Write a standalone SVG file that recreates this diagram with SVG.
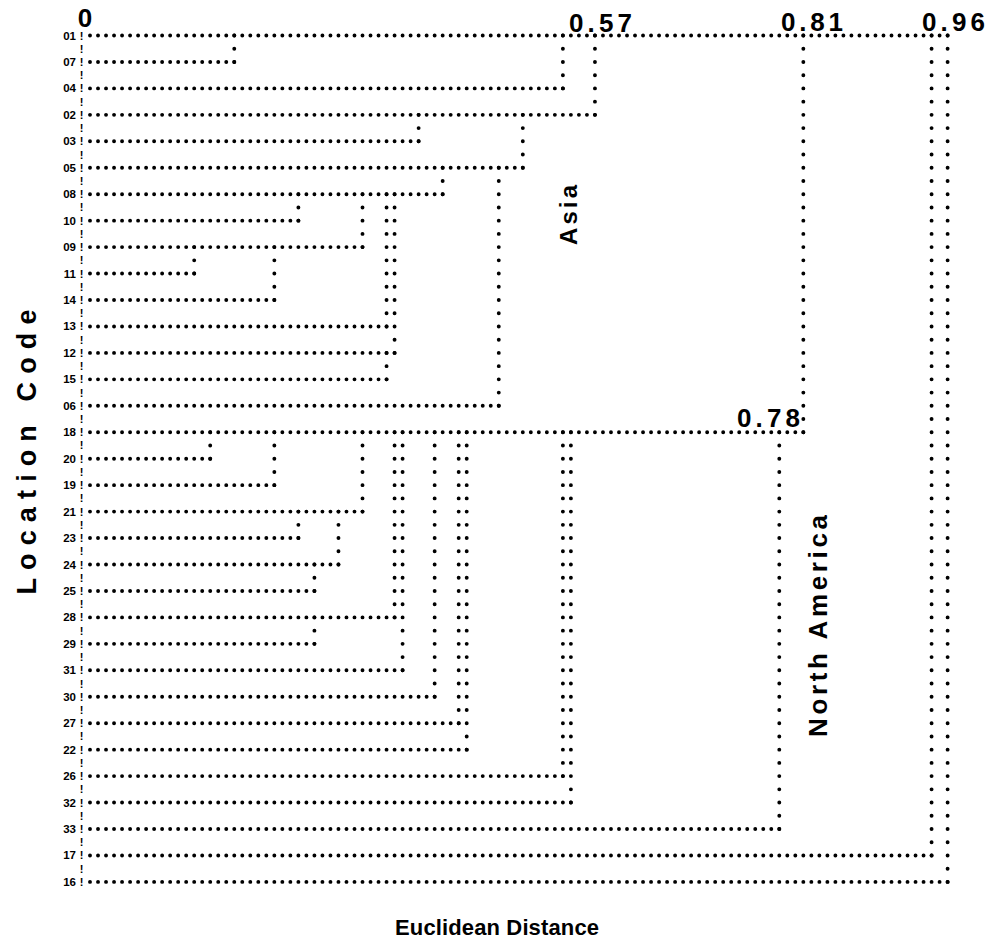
<svg xmlns="http://www.w3.org/2000/svg" width="991" height="946" viewBox="0 0 991 946">
<style>
.c line{stroke:#000;stroke-linecap:round;stroke-width:3.9;fill:none}
.h{stroke-dasharray:0 8.015}
.v{stroke-dasharray:0 13.225}
.lbl{font-family:"Liberation Sans",Arial,sans-serif;font-weight:bold;font-size:11.5px;fill:#000;text-anchor:end}
.bang{font-family:"Liberation Sans",Arial,sans-serif;font-weight:bold;font-size:11px;fill:#000;text-anchor:middle}
.num{font-family:"Liberation Sans",Arial,sans-serif;font-weight:bold;font-size:26px;fill:#000}
.title{font-family:"Liberation Sans",Arial,sans-serif;font-weight:bold;font-size:26px;fill:#000;text-anchor:middle}
</style>
<rect width="991" height="946" fill="#fff"/>
<g id="scale">
<text class="num" x="85" y="27" text-anchor="middle">0</text>
<text class="num" x="569" y="32" textLength="63">0.57</text>
<text class="num" x="781" y="31" textLength="62">0.81</text>
<text class="num" x="922" y="31" textLength="63">0.96</text>
<text class="num" x="737" y="427" textLength="63">0.78</text>
</g>
<g id="ticks">
<text class="bang" x="81.7 81.7 81.7 81.7 81.7 81.7 81.7 81.7 81.7 81.7 81.7 81.7 81.7 81.7 81.7 81.7 81.7 81.7 81.7 81.7 81.7 81.7 81.7 81.7 81.7 81.7 81.7 81.7 81.7 81.7 81.7 81.7 81.7 81.7 81.7 81.7 81.7 81.7 81.7 81.7 81.7 81.7 81.7 81.7 81.7 81.7 81.7 81.7 81.7 81.7 81.7 81.7 81.7 81.7 81.7 81.7 81.7 81.7 81.7 81.7 81.7 81.7 81.7 81.7 81.7" y="39.5 52.73 65.95 79.18 92.4 105.63 118.85 132.08 145.3 158.53 171.75 184.98 198.2 211.43 224.65 237.88 251.1 264.33 277.55 290.78 304.0 317.23 330.45 343.68 356.9 370.13 383.35 396.58 409.8 423.03 436.25 449.48 462.7 475.93 489.15 502.38 515.6 528.83 542.05 555.28 568.5 581.73 594.95 608.18 621.4 634.63 647.85 661.08 674.3 687.53 700.75 713.98 727.2 740.43 753.65 766.88 780.1 793.33 806.55 819.78 833.0 846.23 859.45 872.68 885.9">!!!!!!!!!!!!!!!!!!!!!!!!!!!!!!!!!!!!!!!!!!!!!!!!!!!!!!!!!!!!!!!!!</text>
</g>
<g id="leaf-01"><text class="lbl" x="76" y="39.5">01</text></g>
<g id="leaf-07"><text class="lbl" x="76" y="65.95">07</text></g>
<g id="leaf-04"><text class="lbl" x="76" y="92.4">04</text></g>
<g id="leaf-02"><text class="lbl" x="76" y="118.85">02</text></g>
<g id="leaf-03"><text class="lbl" x="76" y="145.3">03</text></g>
<g id="leaf-05"><text class="lbl" x="76" y="171.75">05</text></g>
<g id="leaf-08"><text class="lbl" x="76" y="198.2">08</text></g>
<g id="leaf-10"><text class="lbl" x="76" y="224.65">10</text></g>
<g id="leaf-09"><text class="lbl" x="76" y="251.1">09</text></g>
<g id="leaf-11"><text class="lbl" x="76" y="277.55">11</text></g>
<g id="leaf-14"><text class="lbl" x="76" y="304.0">14</text></g>
<g id="leaf-13"><text class="lbl" x="76" y="330.45">13</text></g>
<g id="leaf-12"><text class="lbl" x="76" y="356.9">12</text></g>
<g id="leaf-15"><text class="lbl" x="76" y="383.35">15</text></g>
<g id="leaf-06"><text class="lbl" x="76" y="409.8">06</text></g>
<g id="leaf-18"><text class="lbl" x="76" y="436.25">18</text></g>
<g id="leaf-20"><text class="lbl" x="76" y="462.7">20</text></g>
<g id="leaf-19"><text class="lbl" x="76" y="489.15">19</text></g>
<g id="leaf-21"><text class="lbl" x="76" y="515.6">21</text></g>
<g id="leaf-23"><text class="lbl" x="76" y="542.05">23</text></g>
<g id="leaf-24"><text class="lbl" x="76" y="568.5">24</text></g>
<g id="leaf-25"><text class="lbl" x="76" y="594.95">25</text></g>
<g id="leaf-28"><text class="lbl" x="76" y="621.4">28</text></g>
<g id="leaf-29"><text class="lbl" x="76" y="647.85">29</text></g>
<g id="leaf-31"><text class="lbl" x="76" y="674.3">31</text></g>
<g id="leaf-30"><text class="lbl" x="76" y="700.75">30</text></g>
<g id="leaf-27"><text class="lbl" x="76" y="727.2">27</text></g>
<g id="leaf-22"><text class="lbl" x="76" y="753.65">22</text></g>
<g id="leaf-26"><text class="lbl" x="76" y="780.1">26</text></g>
<g id="leaf-32"><text class="lbl" x="76" y="806.55">32</text></g>
<g id="leaf-33"><text class="lbl" x="76" y="833.0">33</text></g>
<g id="leaf-17"><text class="lbl" x="76" y="859.45">17</text></g>
<g id="leaf-16"><text class="lbl" x="76" y="885.9">16</text></g>
<g id="connectors" class="c">
<line class="h" x1="90" y1="35.5" x2="947.9" y2="35.5"/>
<line class="h" x1="90" y1="61.95" x2="234.57" y2="61.95"/>
<line class="h" x1="90" y1="88.4" x2="563.19" y2="88.4"/>
<line class="h" x1="90" y1="114.85" x2="595.25" y2="114.85"/>
<line class="h" x1="90" y1="141.3" x2="418.92" y2="141.3"/>
<line class="h" x1="90" y1="167.75" x2="523.11" y2="167.75"/>
<line class="h" x1="90" y1="194.2" x2="442.96" y2="194.2"/>
<line class="h" x1="90" y1="220.65" x2="298.69" y2="220.65"/>
<line class="h" x1="90" y1="247.1" x2="362.81" y2="247.1"/>
<line class="h" x1="90" y1="273.55" x2="194.5" y2="273.55"/>
<line class="h" x1="90" y1="300" x2="274.65" y2="300"/>
<line class="h" x1="90" y1="326.45" x2="386.86" y2="326.45"/>
<line class="h" x1="90" y1="352.9" x2="394.87" y2="352.9"/>
<line class="h" x1="90" y1="379.35" x2="386.86" y2="379.35"/>
<line class="h" x1="90" y1="405.8" x2="499.07" y2="405.8"/>
<line class="h" x1="90" y1="432.25" x2="803.64" y2="432.25"/>
<line class="h" x1="90" y1="458.7" x2="210.5" y2="458.7"/>
<line class="h" x1="90" y1="485.15" x2="274.65" y2="485.15"/>
<line class="h" x1="90" y1="511.6" x2="362.81" y2="511.6"/>
<line class="h" x1="90" y1="538.05" x2="298.69" y2="538.05"/>
<line class="h" x1="90" y1="564.5" x2="338.77" y2="564.5"/>
<line class="h" x1="90" y1="590.95" x2="314.72" y2="590.95"/>
<line class="h" x1="90" y1="617.4" x2="394.87" y2="617.4"/>
<line class="h" x1="90" y1="643.85" x2="314.72" y2="643.85"/>
<line class="h" x1="90" y1="670.3" x2="402.89" y2="670.3"/>
<line class="h" x1="90" y1="696.75" x2="434.95" y2="696.75"/>
<line class="h" x1="90" y1="723.2" x2="458.99" y2="723.2"/>
<line class="h" x1="90" y1="749.65" x2="467.01" y2="749.65"/>
<line class="h" x1="90" y1="776.1" x2="563.19" y2="776.1"/>
<line class="h" x1="90" y1="802.55" x2="571.2" y2="802.55"/>
<line class="h" x1="90" y1="829" x2="779.59" y2="829"/>
<line class="h" x1="90" y1="855.45" x2="931.88" y2="855.45"/>
<line class="h" x1="90" y1="881.9" x2="947.91" y2="881.9"/>
<line class="v" x1="234.27" y1="35.5" x2="234.27" y2="62.25"/>
<line class="v" x1="562.89" y1="35.5" x2="562.89" y2="88.7"/>
<line class="v" x1="594.95" y1="35.5" x2="594.95" y2="115.15"/>
<line class="v" x1="418.62" y1="114.85" x2="418.62" y2="141.6"/>
<line class="v" x1="522.81" y1="114.85" x2="522.81" y2="168.05"/>
<line class="v" x1="442.66" y1="167.75" x2="442.66" y2="194.5"/>
<line class="v" x1="298.39" y1="194.2" x2="298.39" y2="220.95"/>
<line class="v" x1="362.51" y1="194.2" x2="362.51" y2="247.4"/>
<line class="v" x1="194.2" y1="247.1" x2="194.2" y2="273.85"/>
<line class="v" x1="274.35" y1="247.1" x2="274.35" y2="300.3"/>
<line class="v" x1="386.56" y1="194.2" x2="386.56" y2="326.75"/>
<line class="v" x1="394.57" y1="194.2" x2="394.57" y2="353.2"/>
<line class="v" x1="386.56" y1="352.9" x2="386.56" y2="379.65"/>
<line class="v" x1="498.77" y1="167.75" x2="498.77" y2="406.1"/>
<line class="v" x1="803.34" y1="35.5" x2="803.34" y2="432.55"/>
<line class="v" x1="210.2" y1="432.25" x2="210.2" y2="459"/>
<line class="v" x1="274.35" y1="432.25" x2="274.35" y2="485.45"/>
<line class="v" x1="362.51" y1="432.25" x2="362.51" y2="511.9"/>
<line class="v" x1="298.39" y1="511.6" x2="298.39" y2="538.35"/>
<line class="v" x1="338.47" y1="511.6" x2="338.47" y2="564.8"/>
<line class="v" x1="314.42" y1="564.5" x2="314.42" y2="591.25"/>
<line class="v" x1="394.57" y1="432.25" x2="394.57" y2="617.7"/>
<line class="v" x1="314.42" y1="617.4" x2="314.42" y2="644.15"/>
<line class="v" x1="402.59" y1="432.25" x2="402.59" y2="670.6"/>
<line class="v" x1="434.65" y1="432.25" x2="434.65" y2="697.05"/>
<line class="v" x1="458.69" y1="432.25" x2="458.69" y2="723.5"/>
<line class="v" x1="466.71" y1="432.25" x2="466.71" y2="749.95"/>
<line class="v" x1="562.89" y1="432.25" x2="562.89" y2="776.4"/>
<line class="v" x1="570.9" y1="432.25" x2="570.9" y2="802.85"/>
<line class="v" x1="779.29" y1="432.25" x2="779.29" y2="829.3"/>
<line class="v" x1="931.58" y1="35.5" x2="931.58" y2="855.75"/>
<line class="v" x1="947.61" y1="35.5" x2="947.61" y2="882.2"/>
</g>
<g id="titles">
<text class="title" transform="translate(36,452) rotate(-90)" style="font-size:27px" textLength="285">Location Code</text>
<text class="title" transform="translate(577,215) rotate(-90)" style="font-size:24px" textLength="60">Asia</text>
<text class="title" transform="translate(827,626) rotate(-90)" textLength="222">North America</text>
<text class="title" x="497" y="935" style="font-size:22px" textLength="204">Euclidean Distance</text>
</g>
</svg>
